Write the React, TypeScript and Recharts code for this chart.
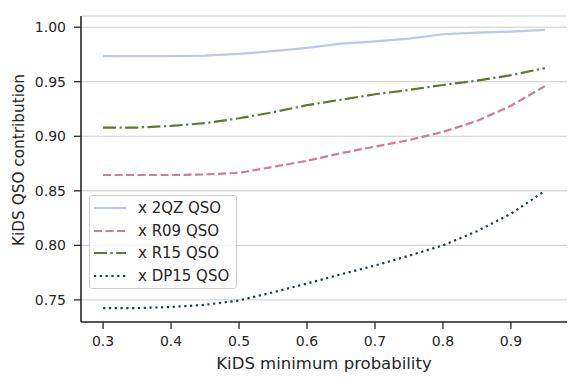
import React from 'react'
import {
  CartesianGrid,
  Line,
  LineChart,
  XAxis,
  YAxis,
} from 'recharts'

const probs = [0.3, 0.35, 0.4, 0.45, 0.5, 0.55, 0.6, 0.65, 0.7, 0.75, 0.8, 0.85, 0.9, 0.95]
const qz2 = [0.9735, 0.9735, 0.9735, 0.974, 0.9755, 0.978, 0.981, 0.985, 0.987, 0.9895, 0.9935, 0.995, 0.996, 0.9975]
const r09 = [0.8645, 0.8645, 0.8645, 0.865, 0.8665, 0.872, 0.8775, 0.8845, 0.8905, 0.8965, 0.904, 0.914, 0.928, 0.946]
const r15 = [0.908, 0.908, 0.9095, 0.912, 0.9165, 0.922, 0.9285, 0.9335, 0.9385, 0.9425, 0.947, 0.951, 0.956, 0.9625]
const dp15 = [0.7425, 0.7425, 0.7435, 0.7455, 0.7495, 0.757, 0.765, 0.7735, 0.7815, 0.7905, 0.8, 0.813, 0.829, 0.85]

const xTicks = [0.3, 0.4, 0.5, 0.6, 0.7, 0.8, 0.9]
const yTicks = [0.75, 0.8, 0.85, 0.9, 0.95, 1.0]

const data = probs.map((p, i) => ({
  p,
  qz2: qz2[i],
  r09: r09[i],
  r15: r15[i],
  dp15: dp15[i],
}))

const series = [
  { key: 'qz2', name: 'x 2QZ QSO', color: '#bcc6f0', dash: undefined },
  { key: 'r09', name: 'x R09 QSO', color: '#d07b97', dash: '8 3.5' },
  { key: 'r15', name: 'x R15 QSO', color: '#5b7a2f', dash: '13 3.5 2.2 3.5' },
  { key: 'dp15', name: 'x DP15 QSO', color: '#1c3a4a', dash: '2.2 3.6' },
]

const ink = '#262626'
const font = '"DejaVu Sans", sans-serif'

const LegendBox = () => (
  <div
    style={{
      position: 'absolute',
      left: 89,
      top: 195,
      width: 148,
      boxSizing: 'border-box',
      background: 'rgba(255,255,255,0.8)',
      border: '1px solid #d0d0d0',
      borderRadius: 3,
      padding: '1px 0 1px 3px',
      fontFamily: font,
      fontSize: 15,
      color: ink,
    }}
  >
    {series.map((s) => (
      <div key={s.key} style={{ display: 'flex', alignItems: 'center', height: 22.6 }}>
        <svg width={45} height={10}>
          <line
            x1={1}
            x2={33}
            y1={5}
            y2={5}
            stroke={s.color}
            strokeWidth={2.2}
            strokeDasharray={s.dash}
          />
        </svg>
        <span>{s.name}</span>
      </div>
    ))}
  </div>
)

const App = () => {
  return (
    <div style={{ position: 'absolute', left: 0, top: 0, width: 584, height: 384 }}>
      <LineChart
        width={584}
        height={384}
        data={data}
        margin={{ top: 16, right: 17, left: 0, bottom: 0 }}
      >
        <CartesianGrid vertical={false} stroke="#cccccc" strokeWidth={1} />
        <XAxis
          dataKey="p"
          type="number"
          domain={[0.2675, 0.9825]}
          ticks={xTicks}
          allowDataOverflow
          height={62}
          tickFormatter={(v: number) => v.toFixed(1)}
          tick={{ fill: ink, fontSize: 14, fontFamily: font }}
          tickSize={7}
          tickMargin={7}
          axisLine={{ stroke: ink, strokeWidth: 1.6 }}
          tickLine={{ stroke: ink, strokeWidth: 1.3 }}
          label={{
            content: ({ viewBox }: any) => (
              <text
                x={viewBox.x + viewBox.width / 2}
                y={viewBox.y + 47}
                textAnchor="middle"
                fill={ink}
                fontSize={16.5}
                fontFamily={font}
              >
                KiDS minimum probability
              </text>
            ),
          }}
        />
        <XAxis
          xAxisId="top"
          orientation="top"
          dataKey="p"
          type="number"
          domain={[0.2675, 0.9825]}
          height={0}
          tick={false}
          tickLine={false}
          axisLine={{ stroke: ink, strokeWidth: 1.6 }}
        />
        <YAxis
          type="number"
          domain={[0.72975, 1.01025]}
          ticks={yTicks}
          allowDataOverflow
          width={81}
          tickFormatter={(v: number) => v.toFixed(2)}
          tick={{ fill: ink, fontSize: 14, fontFamily: font }}
          tickSize={7}
          tickMargin={8}
          axisLine={{ stroke: ink, strokeWidth: 1.6 }}
          tickLine={{ stroke: ink, strokeWidth: 1.3 }}
          label={{
            content: ({ viewBox }: any) => {
              const cx = viewBox.x + 24
              const cy = viewBox.y + viewBox.height / 2 - 9
              return (
                <text
                  x={cx}
                  y={cy}
                  transform={`rotate(-90 ${cx} ${cy})`}
                  textAnchor="middle"
                  fill={ink}
                  fontSize={15.3}
                  fontFamily={font}
                >
                  KiDS QSO contribution
                </text>
              )
            },
          }}
        />
        <YAxis
          yAxisId="right"
          orientation="right"
          width={0}
          domain={[0.72975, 1.01025]}
          tick={false}
          tickLine={false}
          axisLine={{ stroke: ink, strokeWidth: 1.6 }}
        />
        {series.map((s) => (
          <Line
            key={s.key}
            dataKey={s.key}
            name={s.name}
            type="linear"
            stroke={s.color}
            strokeWidth={2.2}
            strokeDasharray={s.dash}
            dot={false}
            activeDot={false}
            isAnimationActive={false}
          />
        ))}
      </LineChart>
      <LegendBox />
    </div>
  )
}

export default App
